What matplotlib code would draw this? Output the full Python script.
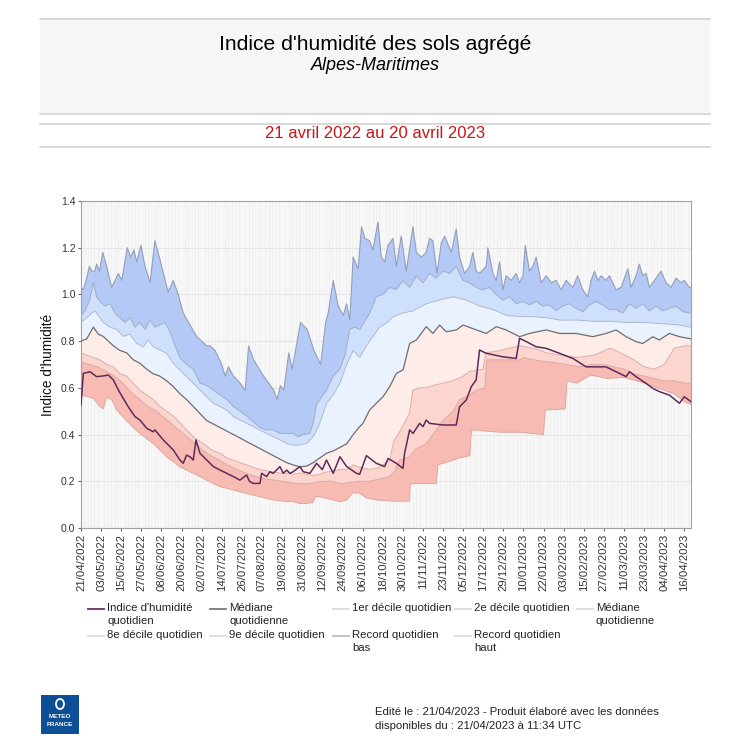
import numpy as np
import pandas as pd
import matplotlib
matplotlib.use("Agg")
import matplotlib.pyplot as plt
from matplotlib.patches import Rectangle, Ellipse
from matplotlib.lines import Line2D

plt.rcParams['font.family'] = ['Liberation Sans', 'DejaVu Sans']

# (jour depuis le 21/04/2022, valeur)
record_haut = [(0, 1.03), (1.4, 1.02), (3.4, 1.07), (5, 1.12), (6.4, 1.10), (8.3, 1.10), (9.3, 1.13), (11, 1.10),
               (13, 1.18), (15.3, 1.12), (18.3, 1.03), (20.3, 1.06), (22.3, 1.09), (24.3, 1.06), (27.6, 1.20),
               (29.6, 1.16), (31.6, 1.19), (33.2, 1.14), (35.8, 1.21), (38.2, 1.12), (41.2, 1.05), (44.1, 1.23),
               (47.1, 1.15), (52, 1.01), (55, 1.06), (58, 1.00), (61, 0.92), (69, 0.82), (75, 0.78), (77, 0.78),
               (80, 0.76), (84, 0.70), (86, 0.65), (88, 0.69), (91, 0.65), (95, 0.62), (98, 0.59), (100, 0.78),
               (103, 0.72), (109, 0.65), (115, 0.59), (117, 0.55), (119, 0.61), (121, 0.59), (124, 0.75),
               (126, 0.68), (131, 0.88), (135, 0.85), (139, 0.76), (143, 0.70), (146, 0.88), (147.5, 0.92),
               (150.5, 1.06), (153.5, 0.95), (156.5, 0.91), (158.5, 0.96), (160.4, 0.89), (162.4, 1.16),
               (165.4, 1.11), (167.4, 1.29), (169.4, 1.24), (172.2, 1.23), (174.2, 1.19), (177.2, 1.31),
               (179.2, 1.16), (181.2, 1.14), (183.2, 1.21), (186.2, 1.24), (188.2, 1.12), (191.1, 1.25),
               (194.1, 1.10), (198.1, 1.29), (200.1, 1.18), (203.1, 1.16), (206, 1.18), (208, 1.24), (210, 1.23),
               (212.4, 1.09), (215, 1.22), (217, 1.25), (221, 1.18), (223.9, 1.28), (225.9, 1.16), (228.9, 1.09),
               (231.9, 1.12), (233.9, 1.18), (235.8, 1.10), (237.8, 1.09), (241.8, 1.12), (242.8, 1.20),
               (245.8, 1.09), (247.8, 1.06), (249.8, 1.14), (251.7, 1.02), (253.7, 1.08), (256.7, 1.06),
               (259.7, 1.09), (261.7, 1.05), (263.7, 1.08), (265.1, 1.21), (267.6, 1.10), (269.6, 1.12),
               (271.6, 1.16), (274.6, 1.05), (277.6, 1.08), (280.6, 1.05), (283.5, 1.06), (286.5, 1.02),
               (289.5, 1.06), (293.5, 1.03), (296.4, 1.08), (299.4, 1.02), (302.4, 0.99), (304.4, 1.06),
               (306.4, 1.10), (308.4, 1.06), (310.4, 1.08), (313.3, 1.06), (315.3, 1.08), (317.3, 1.05),
               (319.3, 1.02), (322.3, 1.03), (326.3, 1.11), (328.2, 1.03), (331.2, 1.08), (333.2, 1.13),
               (335.2, 1.08), (337.2, 1.09), (339.2, 1.03), (342.2, 1.06), (346.1, 1.10), (349.1, 1.05),
               (352.1, 1.03), (355.1, 1.07), (358.1, 1.05), (360, 1.06), (363, 1.03), (364, 1.03)]

decile_9 = [(0, 0.91), (2.4, 0.93), (5.4, 0.98), (7.4, 1.05), (9.3, 0.99), (11.3, 0.97), (14.3, 0.95), (17.3, 0.96),
            (20.3, 0.92), (23.3, 0.90), (26.2, 0.88), (29.2, 0.90), (32.2, 0.86), (35.2, 0.88), (38.2, 0.85),
            (41.2, 0.89), (44.1, 0.86), (47.1, 0.87), (50.1, 0.88), (53.1, 0.84), (56.1, 0.78), (59, 0.73),
            (63, 0.70), (67, 0.68), (71, 0.62), (75, 0.61), (79, 0.59), (83, 0.57), (87, 0.55), (91, 0.52),
            (95, 0.50), (98.8, 0.48), (102.8, 0.455), (106.8, 0.43), (110.7, 0.42), (114.7, 0.42), (118.7, 0.405),
            (122.7, 0.405), (126.6, 0.405), (129.6, 0.39), (132.6, 0.40), (136.6, 0.405), (138.6, 0.45),
            (140.6, 0.53), (143.5, 0.56), (146.5, 0.59), (150.5, 0.65), (154.5, 0.68), (157.5, 0.74),
            (160.4, 0.85), (163.4, 0.86), (166.3, 0.85), (172.3, 0.92), (176.2, 0.99), (180.2, 1.00),
            (184.2, 1.03), (188.2, 1.02), (192.1, 1.06), (196.1, 1.03), (200.1, 1.08), (204.1, 1.05),
            (208, 1.09), (212, 1.07), (216, 1.10), (220, 1.09), (223.9, 1.12), (227.9, 1.06), (231.9, 1.05),
            (235.8, 1.03), (239.8, 1.02), (243.8, 1.03), (247.8, 1.00), (251.7, 0.976), (255.7, 0.99),
            (259.7, 0.96), (263.7, 0.97), (267.6, 0.955), (271.6, 0.97), (275.6, 0.95), (279.6, 0.955),
            (283.5, 0.93), (287.5, 0.95), (291.5, 0.96), (295.5, 0.94), (299.4, 0.926), (303.4, 0.955),
            (307.4, 0.97), (311.4, 0.955), (315.3, 0.935), (319.3, 0.935), (323.3, 0.92), (327.3, 0.96),
            (331.2, 0.94), (335.2, 0.96), (339.2, 0.93), (343.2, 0.95), (347.1, 0.93), (351.1, 0.94),
            (355.1, 0.95), (359.1, 0.926), (364, 0.92)]

decile_8 = [(0, 0.88), (3.4, 0.90), (6.4, 0.92), (8.3, 0.93), (10.3, 0.91), (13.3, 0.88), (17.3, 0.86), (21.3, 0.85),
            (25.2, 0.82), (29.2, 0.83), (33.2, 0.79), (37.2, 0.776), (40.2, 0.805), (43.1, 0.776), (47.1, 0.762),
            (51.1, 0.748), (55.1, 0.705), (59, 0.676), (63, 0.648), (67, 0.62), (71, 0.591), (75, 0.562),
            (79, 0.534), (83, 0.52), (87, 0.505), (91, 0.477), (95, 0.462), (98.8, 0.448), (102.8, 0.434),
            (106.8, 0.419), (110.7, 0.405), (114.7, 0.391), (118.7, 0.377), (122.7, 0.362), (126.6, 0.355),
            (130.6, 0.355), (134.6, 0.362), (138.6, 0.391), (142.5, 0.448), (146.5, 0.534), (150.5, 0.57),
            (154.5, 0.62), (158.5, 0.70), (162.4, 0.76), (166.3, 0.73), (170.3, 0.78), (174.2, 0.82),
            (178.2, 0.86), (182.2, 0.876), (186.2, 0.905), (192.1, 0.92), (198.1, 0.93), (206, 0.96), (214, 0.976),
            (222, 0.99), (230, 0.976), (238, 0.95), (246, 0.935), (254, 0.91), (262, 0.905), (270, 0.905),
            (278, 0.90), (286, 0.89), (296, 0.89), (306, 0.885), (316, 0.885), (326, 0.88), (336, 0.88),
            (346, 0.875), (356, 0.87), (364, 0.86)]

mediane = [(0, 0.80), (3.4, 0.81), (7.4, 0.86), (10.3, 0.83), (13.3, 0.82), (16.3, 0.80), (19.3, 0.78), (23.3, 0.76),
           (27.2, 0.75), (31.2, 0.72), (35.2, 0.705), (39.2, 0.68), (43.1, 0.66), (47.1, 0.65), (51.1, 0.63),
           (55.1, 0.605), (59, 0.575), (63, 0.55), (67, 0.52), (71, 0.49), (75, 0.46), (79, 0.445), (83, 0.43),
           (87, 0.415), (91, 0.40), (95, 0.385), (98.8, 0.37), (102.8, 0.355), (106.8, 0.34), (110.7, 0.325),
           (114.7, 0.31), (118.7, 0.295), (122.7, 0.28), (126.6, 0.27), (130.6, 0.262), (134.6, 0.265),
           (138.6, 0.28), (142.5, 0.30), (146.5, 0.32), (150.5, 0.33), (154.5, 0.345), (158.5, 0.36),
           (162.4, 0.40), (166.3, 0.434), (168.3, 0.448), (172.2, 0.505), (176.2, 0.534), (180.2, 0.562),
           (184.2, 0.605), (188.2, 0.662), (192.2, 0.677), (196.1, 0.79), (200.1, 0.805), (206, 0.862),
           (210, 0.833), (214, 0.869), (218, 0.84), (224, 0.848), (228, 0.869), (236, 0.848), (241.8, 0.833),
           (247.8, 0.862), (253.7, 0.848), (261.7, 0.819), (267.6, 0.833), (277.6, 0.848), (285.5, 0.833),
           (295.5, 0.833), (305.4, 0.819), (313.3, 0.833), (319.3, 0.848), (325.3, 0.819), (331.2, 0.798),
           (335.2, 0.79), (341.2, 0.819), (345.1, 0.805), (351.1, 0.833), (357.1, 0.819), (364, 0.81)]

decile_2 = [(0, 0.75), (3.4, 0.74), (7.4, 0.73), (11.3, 0.72), (15.3, 0.70), (19.3, 0.69), (23.3, 0.66), (27.2, 0.65),
            (31.2, 0.62), (35.2, 0.59), (39.2, 0.57), (43.1, 0.55), (47.1, 0.52), (51.1, 0.50), (55.1, 0.48),
            (59, 0.45), (63, 0.42), (67, 0.39), (71, 0.37), (75, 0.35), (79, 0.33), (83, 0.32), (87, 0.30),
            (91, 0.29), (95, 0.28), (98.8, 0.27), (102.8, 0.26), (106.8, 0.25), (110.7, 0.245), (114.7, 0.24),
            (118.7, 0.235), (122.7, 0.235), (126.6, 0.23), (130.6, 0.235), (134.6, 0.23), (138.6, 0.225),
            (142.5, 0.23), (146.5, 0.24), (150.5, 0.245), (154.5, 0.25), (158.5, 0.25), (162.4, 0.27),
            (166.3, 0.26), (172.2, 0.25), (178.2, 0.26), (184.2, 0.29), (186.5, 0.37), (190, 0.41), (196, 0.49),
            (198, 0.59), (202, 0.60), (206, 0.60), (210, 0.61), (216, 0.62), (222, 0.63), (228, 0.65), (232, 0.67),
            (240, 0.68), (241.5, 0.75), (250, 0.76), (256, 0.77), (262, 0.78), (270, 0.77), (278, 0.75),
            (286, 0.74), (296, 0.73), (306, 0.74), (316, 0.77), (322, 0.75), (330, 0.72), (336, 0.69),
            (342, 0.68), (348, 0.70), (354, 0.77), (360, 0.78), (364, 0.78)]

decile_1 = [(0, 0.71), (5, 0.70), (10, 0.69), (15, 0.67), (20, 0.65), (25, 0.62), (30, 0.58), (35, 0.55), (40, 0.52),
            (45, 0.50), (50, 0.47), (55, 0.44), (60, 0.41), (65, 0.38), (70, 0.35), (75, 0.32), (80, 0.30),
            (85, 0.28), (90, 0.26), (95, 0.245), (100, 0.23), (105, 0.22), (110, 0.21), (115, 0.205), (120, 0.20),
            (125, 0.195), (130, 0.19), (135, 0.19), (140, 0.195), (145, 0.20), (150, 0.20), (155, 0.19),
            (160, 0.195), (166, 0.20), (172, 0.20), (178, 0.21), (184, 0.22), (187, 0.24), (190, 0.29),
            (196, 0.305), (200, 0.34), (206, 0.36), (210, 0.40), (216, 0.46), (222, 0.50), (226, 0.55),
            (232, 0.57), (236, 0.59), (241, 0.60), (242, 0.72), (262, 0.72), (264, 0.73), (270, 0.72),
            (280, 0.71), (290, 0.70), (297, 0.69), (305, 0.70), (312, 0.70), (318, 0.69), (324, 0.68),
            (330, 0.66), (336, 0.65), (342, 0.64), (348, 0.63), (354, 0.63), (360, 0.62), (364, 0.62)]

record_bas = [(0, 0.57), (7.4, 0.555), (11.3, 0.52), (13.3, 0.51), (15.3, 0.56), (18.3, 0.55), (21.3, 0.505),
              (27.2, 0.46), (31.2, 0.43), (35.2, 0.405), (39.2, 0.383), (43.1, 0.362), (47.1, 0.334),
              (51.1, 0.305), (55.1, 0.284), (59, 0.262), (63, 0.248), (67, 0.234), (71, 0.22), (75, 0.205),
              (79, 0.19), (83, 0.177), (87, 0.17), (91, 0.163), (95, 0.155), (98.8, 0.148), (102.8, 0.141),
              (106.8, 0.134), (110.7, 0.127), (114.7, 0.12), (118.7, 0.117), (122.7, 0.113), (126.6, 0.113),
              (130.6, 0.105), (134.6, 0.105), (138.6, 0.11), (139.6, 0.134), (142.5, 0.134), (146.5, 0.127),
              (150.5, 0.12), (154.5, 0.113), (158.5, 0.12), (162, 0.15), (166, 0.15), (170, 0.13), (176, 0.12),
              (186, 0.115), (196, 0.115), (196.5, 0.19), (206, 0.19), (212, 0.19), (213, 0.27), (226, 0.30),
              (232, 0.31), (233, 0.42), (250, 0.41), (262, 0.41), (276, 0.40), (277, 0.505), (289, 0.51),
              (290, 0.63), (296, 0.62), (304, 0.655), (314, 0.64), (324, 0.645), (334, 0.625), (344, 0.60),
              (354, 0.575), (360, 0.54), (364, 0.53)]

indice = [(0, 0.527), (1.4, 0.662), (5.4, 0.669), (9.3, 0.648), (13.3, 0.651), (16.3, 0.655), (19.3, 0.634),
          (22.3, 0.591), (25.2, 0.555), (28.2, 0.519), (32.2, 0.477), (35.2, 0.462), (39.2, 0.427), (43.1, 0.412),
          (44.1, 0.42), (49.1, 0.377), (55.1, 0.334), (59, 0.291), (61, 0.277), (63, 0.312), (65, 0.305),
          (67, 0.291), (68.6, 0.377), (71, 0.32), (75, 0.291), (79, 0.263), (83, 0.248), (87, 0.234), (91, 0.22),
          (94.8, 0.205), (98.8, 0.227), (100.5, 0.2), (102.8, 0.191), (106.8, 0.191), (107.8, 0.234),
          (110.7, 0.22), (112.7, 0.241), (114.7, 0.234), (118.7, 0.263), (120.7, 0.234), (122.7, 0.248),
          (124.7, 0.234), (126.6, 0.241), (130.6, 0.263), (132.6, 0.241), (136.6, 0.234), (140.6, 0.277),
          (144, 0.25), (146.5, 0.291), (150.5, 0.234), (154.5, 0.305), (158.5, 0.263), (164.4, 0.234),
          (166.3, 0.23), (170.3, 0.31), (176.2, 0.277), (181.2, 0.263), (183.2, 0.298), (188.2, 0.277),
          (192.1, 0.255), (193.1, 0.32), (196.1, 0.42), (198.1, 0.405), (202.1, 0.448), (204.1, 0.434),
          (206, 0.462), (208, 0.448), (216, 0.441), (223.9, 0.441), (225.9, 0.519), (229.9, 0.548),
          (232.9, 0.605), (235.8, 0.634), (237.8, 0.762), (241.8, 0.748), (251.7, 0.733), (259.7, 0.726),
          (261.7, 0.812), (265.7, 0.798), (271.6, 0.776), (277.6, 0.769), (285.5, 0.748), (293.5, 0.726),
          (301.4, 0.69), (313.3, 0.69), (319.3, 0.669), (325.3, 0.648), (327.3, 0.669), (331.2, 0.648),
          (337.2, 0.619), (341.2, 0.598), (345.1, 0.584), (351.1, 0.569), (357.1, 0.534), (360, 0.562),
          (364, 0.541)]

debut = pd.Timestamp("2022-04-21")
tick_days = list(range(0, 361, 12))
tick_labels = [(debut + pd.Timedelta(days=d)).strftime("%d/%m/%Y") for d in tick_days]

legend_labels = [["Indice d'humidité\nquotidien", "Médiane\nquotidienne", "1er décile quotidien",
                  "2e décile quotidien", "Médiane\nquotidienne"],
                 ["8e décile quotidien", "9e décile quotidien", "Record quotidien\nbas",
                  "Record quotidien\nhaut"]]
legend_colors = [["#6b2f64", "#7a7a7a", "#dcdcdc", "#dcdcdc", "#dcdcdc"],
                 ["#dcdcdc", "#dcdcdc", "#bdbdbd", "#dcdcdc"]]


def xy(pairs):
    a = np.array(pairs)
    return a[:, 0], a[:, 1]


def band(ax, haut, bas, color):
    dh, vh = xy(haut)
    db, vb = xy(bas)
    ax.fill(np.r_[dh, db[::-1]], np.r_[vh, vb[::-1]], color=color, lw=0, zorder=2)


fig = plt.figure(figsize=(7.5, 7.5), dpi=100)
W, H = 750.0, 750.0

# bandeau du titre
fig.patches.append(Rectangle((40 / W, 1 - 114 / H), 670 / W, 95 / H, transform=fig.transFigure,
                             facecolor="#f6f6f6", edgecolor="none"))
for yy in [19, 114, 124, 147]:
    fig.add_artist(Line2D([40 / W, 710 / W], [1 - yy / H, 1 - yy / H], color="#d2d2d2", lw=1.2))
fig.text(0.5, 1 - 44 / H, "Indice d'humidité des sols agrégé", ha="center", va="center", fontsize=15.2)
fig.text(0.5, 1 - 66 / H, "Alpes-Maritimes", ha="center", va="center", fontsize=13, style="italic")
fig.text(0.5, 1 - 133 / H, "21 avril 2022 au 20 avril 2023", ha="center", va="center", fontsize=12,
         color="#cc1414")

ax = fig.add_axes([81 / W, 1 - 528 / H, 610 / W, 327 / H])
ax.set_facecolor("#f7f7f7")

band(ax, record_haut, decile_9, "#b5c9f6")
band(ax, decile_9, decile_8, "#cfe0fc")
band(ax, decile_8, mediane, "#e9f2fe")
band(ax, mediane, decile_2, "#fdece7")
band(ax, decile_2, decile_1, "#fbd5ce")
band(ax, decile_1, record_bas, "#f8bbb3")

for serie, col, lw in [(record_haut, "#949fb8", 0.8), (decile_9, "#a0acc4", 0.7), (decile_8, "#adb9ce", 0.7),
                       (decile_2, "#dcb0aa", 0.7), (decile_1, "#dcaaa3", 0.7), (record_bas, "#dda7a0", 0.7)]:
    d, v = xy(serie)
    ax.plot(d, v, color=col, lw=lw, zorder=3)
d, v = xy(mediane)
ax.plot(d, v, color="#6f6f6f", lw=0.9, zorder=4)
d, v = xy(indice)
ax.plot(d, v, color="#5e2a5c", lw=1.1, zorder=5)

ax.set_xlim(0, 364)
ax.set_ylim(0, 1.4)
ax.set_yticks(np.arange(0, 1.41, 0.2))
ax.set_yticklabels([f"{t:.1f}" for t in np.arange(0, 1.41, 0.2)])
ax.set_xticks(tick_days)
ax.set_xticklabels(tick_labels, rotation=90)
ax.set_xticks(np.arange(0, 365, 2), minor=True)
ax.tick_params(axis="x", which="minor", length=0)
ax.tick_params(axis="x", which="major", labelsize=8.2, colors="#666666", labelcolor="#333333",
               length=2.5, pad=1.5)
ax.tick_params(axis="y", which="major", labelsize=7.5, colors="#666666", labelcolor="#333333",
               length=2.5, pad=1.5)
ax.grid(axis="x", which="minor", color="#ebebeb", lw=0.4, zorder=0)
ax.grid(axis="y", which="major", color="#e6e6e6", lw=0.8, zorder=0)
ax.set_axisbelow(True)
for s in ax.spines.values():
    s.set_color("#a0a0a0")
    s.set_linewidth(0.8)
ax.set_ylabel("Indice d'humidité", fontsize=9.8, color="#111111")
ax.yaxis.set_label_coords(-0.043, 0.5)

# légende
col_x = [88, 210, 333, 455, 577]
row_y = [609, 636]
for r, (labs, cols) in enumerate(zip(legend_labels, legend_colors)):
    for c, (lab, colr) in enumerate(zip(labs, cols)):
        x0 = col_x[c]
        y0 = row_y[r]
        fig.add_artist(Line2D([x0 / W, (x0 + 16) / W], [1 - y0 / H, 1 - y0 / H], color=colr, lw=1.3))
        fig.text((x0 + 19) / W, 1 - (y0 - 6) / H, lab, ha="left", va="top", fontsize=8.2,
                 color="#222222", linespacing=1.35)

# logo et pied de page
fig.patches.append(Rectangle((41 / W, 1 - 734 / H), 38 / W, 39 / H, transform=fig.transFigure,
                             facecolor="#0d4f96", edgecolor="none"))
fig.patches.append(Ellipse((60 / W, 1 - 704 / H), 8 / W, 10 / H, transform=fig.transFigure,
                           facecolor="none", edgecolor="white", lw=1.3))
fig.text(60 / W, 1 - 716 / H, "METEO", ha="center", va="center", fontsize=4.6, color="white", weight="bold")
fig.text(60 / W, 1 - 724 / H, "FRANCE", ha="center", va="center", fontsize=4.6, color="white", weight="bold")
fig.text(375 / W, 1 - 712 / H, "Edité le : 21/04/2023 - Produit élaboré avec les données",
         ha="left", va="center", fontsize=8.2, color="#222222")
fig.text(375 / W, 1 - 726 / H, "disponibles du : 21/04/2023 à 11:34 UTC",
         ha="left", va="center", fontsize=8.2, color="#222222")

fig.savefig("out.png", dpi=100)
